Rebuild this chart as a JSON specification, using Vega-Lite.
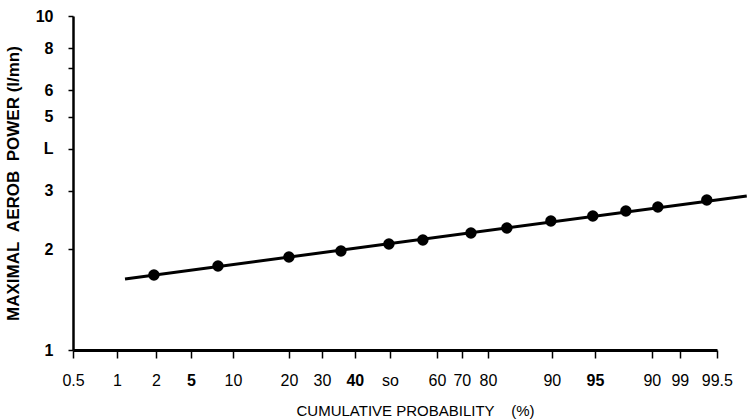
{
  "$schema": "https://vega.github.io/schema/vega-lite/v6.json",
  "width": 644,
  "height": 334,
  "autosize": {"type": "none"},
  "padding": {"left": 73, "top": 16, "right": 34, "bottom": 70},
  "background": "white",
  "config": {
    "view": {"stroke": null},
    "font": "Liberation Sans",
    "axis": {
      "grid": false,
      "domainColor": "black",
      "tickColor": "black",
      "labelColor": "black",
      "titleColor": "black",
      "labelFont": "Liberation Sans",
      "titleFont": "Liberation Sans"
    }
  },
  "datasets": {
    "points": [
      {"z": -1.919, "power": 1.677},
      {"z": -1.398, "power": 1.784},
      {"z": -0.821, "power": 1.898},
      {"z": -0.398, "power": 1.979},
      {"z": -0.008, "power": 2.077},
      {"z": 0.268, "power": 2.135},
      {"z": 0.659, "power": 2.24},
      {"z": 0.951, "power": 2.319},
      {"z": 1.309, "power": 2.434},
      {"z": 1.65, "power": 2.519},
      {"z": 1.919, "power": 2.608},
      {"z": 2.179, "power": 2.68},
      {"z": 2.577, "power": 2.813}
    ],
    "fit": [
      {"z": -2.154, "power": 1.632},
      {"z": 2.902, "power": 2.891}
    ]
  },
  "encoding": {
    "x": {
      "field": "z",
      "type": "quantitative",
      "scale": {"domain": [-2.577, 2.66], "nice": false, "zero": false},
      "axis": {
        "values": [-2.577, -2.22, -1.902, -1.618, -1.276, -0.821, -0.553, -0.285, 0, 0.382, 0.585, 0.797, 1.317, 1.667, 2.13, 2.358, 2.659],
        "labelExpr": "['0.5','1','2','5','10','20','30','40','so','60','70','80','90','95','90','99','99.5'][indexof([-2.577, -2.22, -1.902, -1.618, -1.276, -0.821, -0.553, -0.285, 0, 0.382, 0.585, 0.797, 1.317, 1.667, 2.13, 2.358, 2.659], datum.value)]",
        "labelFontSize": 16,
        "labelFontWeight": {"condition": {"test": "datum.value == -1.618 || datum.value == -0.285 || datum.value == 1.667", "value": "bold"}, "value": "normal"},
        "labelPadding": 14,
        "labelFlush": false,
        "labelOverlap": false,
        "tickSize": 8,
        "tickWidth": 1.5,
        "domainWidth": 3,
        "title": "CUMULATIVE PROBABILITY\u00a0\u00a0\u00a0\u00a0(%)",
        "titleFontSize": 15,
        "titleFontWeight": "normal",
        "titleX": 223,
        "titleY": 65,
        "titleAlign": "left",
        "titleBaseline": "alphabetic"
      }
    },
    "y": {
      "field": "power",
      "type": "quantitative",
      "scale": {"type": "log", "domain": [1, 10], "nice": false},
      "axis": {
        "values": [1, 2, 3, 4, 5, 6, 7, 8, 10],
        "labelExpr": "datum.value == 4 ? 'L' : datum.value == 7 ? '' : datum.label",
        "labelFontSize": 16,
        "labelFontWeight": "bold",
        "labelPadding": 15,
        "labelFlush": false,
        "labelOverlap": false,
        "tickSize": 5,
        "tickWidth": 1.5,
        "domainWidth": 2.5,
        "title": "MAXIMAL\u00a0\u00a0AEROB\u00a0\u00a0POWER\u00a0(l/mn)",
        "titleFontSize": 17,
        "titleFontWeight": "bold",
        "titleAngle": -90,
        "titleX": -60,
        "titleY": 167,
        "titleAlign": "center",
        "titleBaseline": "middle"
      }
    }
  },
  "layer": [
    {
      "data": {"name": "fit"},
      "mark": {"type": "line", "color": "black", "strokeWidth": 3, "clip": false}
    },
    {
      "data": {"name": "points"},
      "mark": {"type": "point", "filled": true, "color": "black", "opacity": 1, "size": 130, "clip": false}
    }
  ]
}
